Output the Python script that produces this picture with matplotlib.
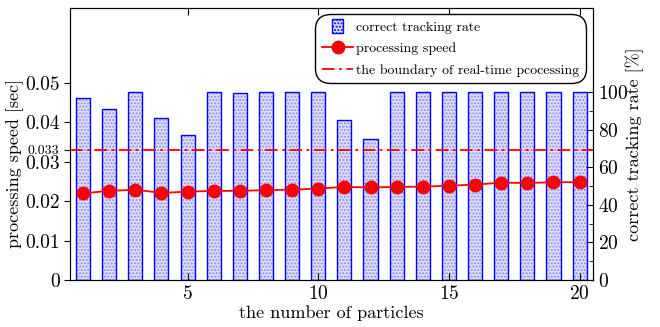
import numpy as np
import matplotlib.pyplot as plt
from matplotlib.lines import Line2D
from matplotlib.patches import Patch, Rectangle
from matplotlib.legend_handler import HandlerPatch

plt.rcParams['font.family'] = ['cmr10', 'DejaVu Serif']
plt.rcParams['axes.formatter.use_mathtext'] = True

# data
particles = list(range(1, 21))
tracking_rate = [97, 91, 100, 86.5, 77.5, 100, 99.5, 100, 100, 100,
                 85.5, 75, 100, 100, 100, 100, 100, 100, 100, 100]
speed = [0.0220, 0.0226, 0.0229, 0.0221, 0.0224, 0.0226, 0.0226, 0.0228, 0.0229, 0.0232,
         0.0236, 0.0235, 0.0236, 0.0237, 0.0239, 0.0242, 0.0247, 0.0246, 0.0248, 0.0248]
boundary = 0.033

dashdot = (0, (7, 2.5, 1.5, 2.5))


def small_box(legend, orig_handle, xdescent, ydescent, width, height, fontsize):
    # narrow square-ish patch centred in the handle area
    w = height * 1.1
    h = height * 1.45
    return Rectangle((-xdescent + (width - w) / 2, -ydescent + (height - h) / 2), w, h)


fig = plt.figure(figsize=(6.6, 3.27), dpi=100)
ax1 = fig.add_axes([0.106, 0.1437, 0.792, 0.832])
ax2 = ax1.twinx()

# bars on the right axis
ax2.bar(particles, tracking_rate, width=0.54, facecolor='#dedefa',
        edgecolor='#8c8cf0', hatch='.....', linewidth=0)
ax2.bar(particles, tracking_rate, width=0.54, facecolor='none',
        edgecolor='blue', linewidth=1.0)
ax2.set_ylim(0, 145)
ax2.set_yticks([0, 20, 40, 60, 80, 100])
ax2.set_yticks([10, 30, 50, 70, 90], minor=True)
ax2.tick_params(axis='y', direction='in', labelsize=14, length=5)
ax2.tick_params(axis='y', which='minor', direction='in', length=3)
ax2.set_ylabel('correct tracking rate [%]', fontsize=13)
ax2.yaxis.set_label_coords(1.063, 0.5)

# speed on the left axis, drawn above the bars
ax1.set_zorder(ax2.get_zorder() + 1)
ax1.patch.set_visible(False)
ax1.plot(particles, speed, color='red', lw=1.3, marker='o', ms=9)
ax1.axhline(boundary, color='red', lw=1.3, ls=dashdot)
ax1.set_ylim(0, 0.069)
ax1.set_xlim(0.5, 20.5)
ax1.set_yticks([0, 0.01, 0.02, 0.03, 0.033, 0.04, 0.05])
ax1.set_yticklabels(['0', '0.01', '0.02', '0.03', '0.033', '0.04', '0.05'])
ax1.tick_params(axis='y', direction='out', labelsize=14, length=4)
ax1.get_yticklabels()[4].set_fontsize(10)
ax1.set_xticks([5, 10, 15, 20])
ax1.tick_params(axis='x', direction='in', labelsize=14, length=5, top=True)
ax1.set_xlabel('the number of particles', fontsize=13, labelpad=2)
ax1.set_ylabel('processing speed [sec]', fontsize=13)
ax1.yaxis.set_label_coords(-0.088, 0.43)

handles = [
    Patch(facecolor='#dedefa', edgecolor='blue', hatch='.....'),
    Line2D([], [], color='red', lw=1.3, marker='o', ms=9),
    Line2D([], [], color='red', lw=1.3, ls=dashdot),
]
labels = ['correct tracking rate', 'processing speed',
          'the boundary of real-time pcocessing']
leg = ax1.legend(handles, labels, loc='upper right', fontsize=10,
                 fancybox=True, edgecolor='black', framealpha=1,
                 borderaxespad=0.45, borderpad=0.5, handlelength=2.2,
                 handletextpad=0.25, labelspacing=0.62,
                 handler_map={Patch: HandlerPatch(patch_func=small_box)})
leg.get_frame().set_linewidth(1.0)
leg.get_frame().set_boxstyle('round', pad=0, rounding_size=1.1)

fig.savefig('out.png', dpi=100)
